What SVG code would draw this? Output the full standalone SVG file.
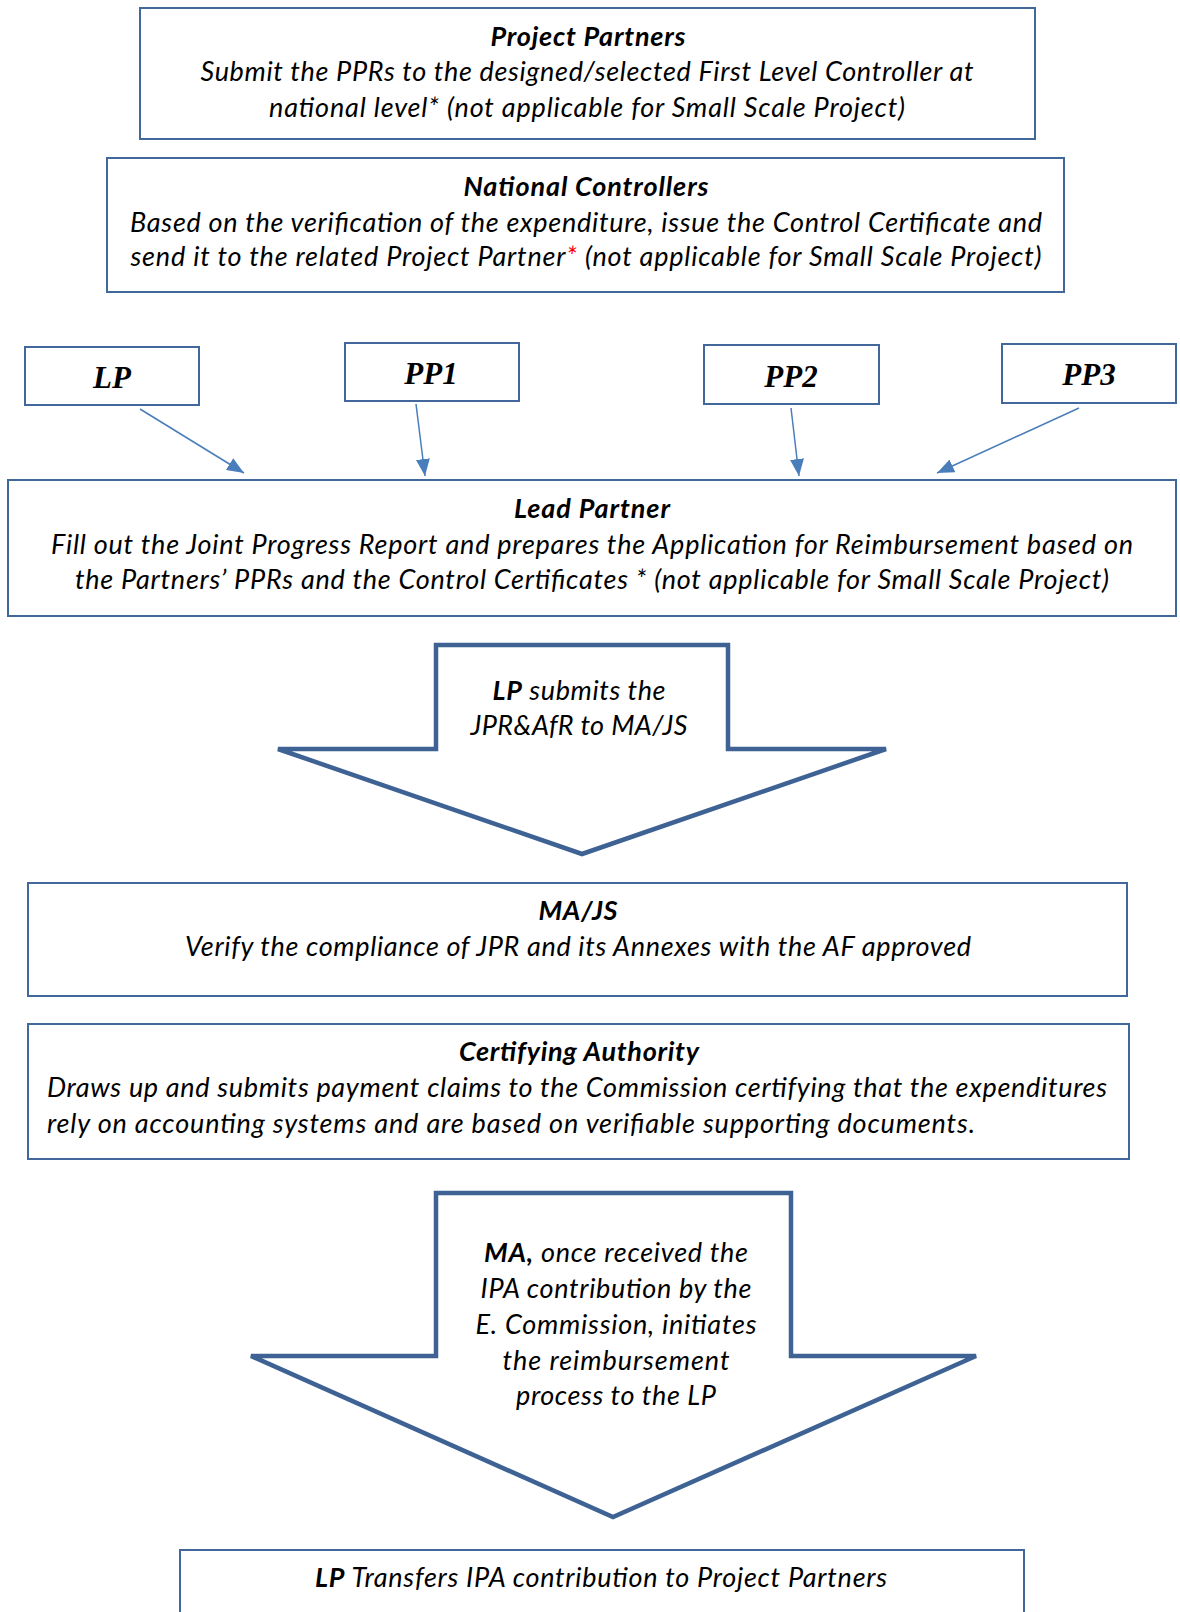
<svg xmlns="http://www.w3.org/2000/svg" width="1180" height="1612" viewBox="0 0 1180 1612">
<style>
.box{fill:#fff;stroke:#41679B;stroke-width:2}
.barrow{fill:#fff;stroke:#3D6293;stroke-width:4.5;stroke-linejoin:miter}
.t{font-family:Lato,"Liberation Sans",sans-serif;font-style:italic;font-size:27px;fill:#000;text-anchor:middle}
.s{text-anchor:start}
.b{font-weight:bold}
.pp{font-family:"Liberation Serif","DejaVu Serif",serif;font-style:italic;font-weight:bold;font-size:31px;fill:#000;text-anchor:middle}
.con{stroke:#4A7EBB;stroke-width:1.5;fill:none}
</style>
<defs>
<marker id="ah" viewBox="0 0 10 10" refX="10" refY="5" markerWidth="17" markerHeight="14" markerUnits="userSpaceOnUse" orient="auto" preserveAspectRatio="none">
<path d="M0,0 L10,5 L0,10 z" fill="#4A7EBB"/>
</marker>
</defs>
<rect width="1180" height="1612" fill="#fff"/>

<g id="project-partners">
<rect class="box" x="140" y="8" width="895" height="131"/>
<text class="t b" x="588" y="46" textLength="195" lengthAdjust="spacing">Project Partners</text>
<text class="t" x="587" y="81" textLength="773" lengthAdjust="spacing">Submit the PPRs to the designed/selected First Level Controller at</text>
<text class="t" x="587" y="117" textLength="636" lengthAdjust="spacing">national level* (not applicable for Small Scale Project)</text>
</g>

<g id="national-controllers">
<rect class="box" x="107" y="158" width="957" height="134"/>
<text class="t b" x="586" y="196" textLength="245" lengthAdjust="spacing">National Controllers</text>
<text class="t" x="586" y="232" textLength="912" lengthAdjust="spacing">Based on the verification of the expenditure, issue the Control Certificate and</text>
<text class="t" x="586" y="266" textLength="911" lengthAdjust="spacing">send it to the related Project Partner<tspan fill="#FF0000">*</tspan> (not applicable for Small Scale Project)</text>
</g>

<g id="lp">
<rect class="box" x="25" y="347" width="174" height="58"/>
<text class="pp" x="112" y="388">LP</text>
</g>
<g id="pp1">
<rect class="box" x="345" y="343" width="174" height="58"/>
<text class="pp" x="431" y="384">PP1</text>
</g>
<g id="pp2">
<rect class="box" x="704" y="345" width="175" height="59"/>
<text class="pp" x="791" y="387">PP2</text>
</g>
<g id="pp3">
<rect class="box" x="1002" y="344" width="174" height="59"/>
<text class="pp" x="1089" y="385">PP3</text>
</g>

<g id="connectors">
<line class="con" x1="140" y1="409" x2="244" y2="473" marker-end="url(#ah)"/>
<line class="con" x1="416" y1="404" x2="425" y2="476" marker-end="url(#ah)"/>
<line class="con" x1="791" y1="408" x2="799" y2="476" marker-end="url(#ah)"/>
<line class="con" x1="1079" y1="408" x2="937" y2="473" marker-end="url(#ah)"/>
</g>

<g id="lead-partner">
<rect class="box" x="8" y="480" width="1168" height="136"/>
<text class="t b" x="592" y="518" textLength="156" lengthAdjust="spacing">Lead Partner</text>
<text class="t" x="592" y="554" textLength="1082" lengthAdjust="spacing">Fill out the Joint Progress Report and prepares the Application for Reimbursement based on</text>
<text class="t" x="592" y="589" textLength="1034" lengthAdjust="spacing">the Partners’ PPRs and the Control Certificates * (not applicable for Small Scale Project)</text>
</g>

<g id="submit-arrow">
<polygon class="barrow" points="436,645 728,645 728,749 886,749 582,854 278,749 436,749"/>
<text class="t" x="579" y="700" textLength="173" lengthAdjust="spacing"><tspan class="b">LP</tspan> submits the</text>
<text class="t" x="579" y="735" textLength="217" lengthAdjust="spacing">JPR&amp;AfR to MA/JS</text>
</g>

<g id="ma-js">
<rect class="box" x="28" y="883" width="1099" height="113"/>
<text class="t b" x="578" y="920" textLength="79" lengthAdjust="spacing">MA/JS</text>
<text class="t" x="578" y="956" textLength="786" lengthAdjust="spacing">Verify the compliance of JPR and its Annexes with the AF approved</text>
</g>

<g id="certifying-authority">
<rect class="box" x="28" y="1024" width="1101" height="135"/>
<text class="t b" x="579" y="1061" textLength="240" lengthAdjust="spacing">Certifying Authority</text>
<text class="t s" x="47" y="1097" textLength="1060" lengthAdjust="spacing">Draws up and submits payment claims to the Commission certifying that the expenditures</text>
<text class="t s" x="47" y="1133" textLength="928" lengthAdjust="spacing">rely on accounting systems and are based on verifiable supporting documents.</text>
</g>

<g id="reimburse-arrow">
<polygon class="barrow" points="436,1193 791,1193 791,1356 976,1356 613,1517 251,1356 436,1356"/>
<text class="t" x="616" y="1262" textLength="264" lengthAdjust="spacing"><tspan class="b">MA,</tspan> once received the</text>
<text class="t" x="616" y="1298" textLength="271" lengthAdjust="spacing">IPA contribution by the</text>
<text class="t" x="616" y="1334" textLength="281" lengthAdjust="spacing">E. Commission, initiates</text>
<text class="t" x="616" y="1370" textLength="227" lengthAdjust="spacing">the reimbursement</text>
<text class="t" x="616" y="1405" textLength="200" lengthAdjust="spacing">process to the LP</text>
</g>

<g id="lp-transfers">
<rect class="box" x="180" y="1550" width="844" height="100"/>
<text class="t" x="601" y="1587" textLength="572" lengthAdjust="spacing"><tspan class="b">LP</tspan> Transfers IPA contribution to Project Partners</text>
</g>
</svg>
